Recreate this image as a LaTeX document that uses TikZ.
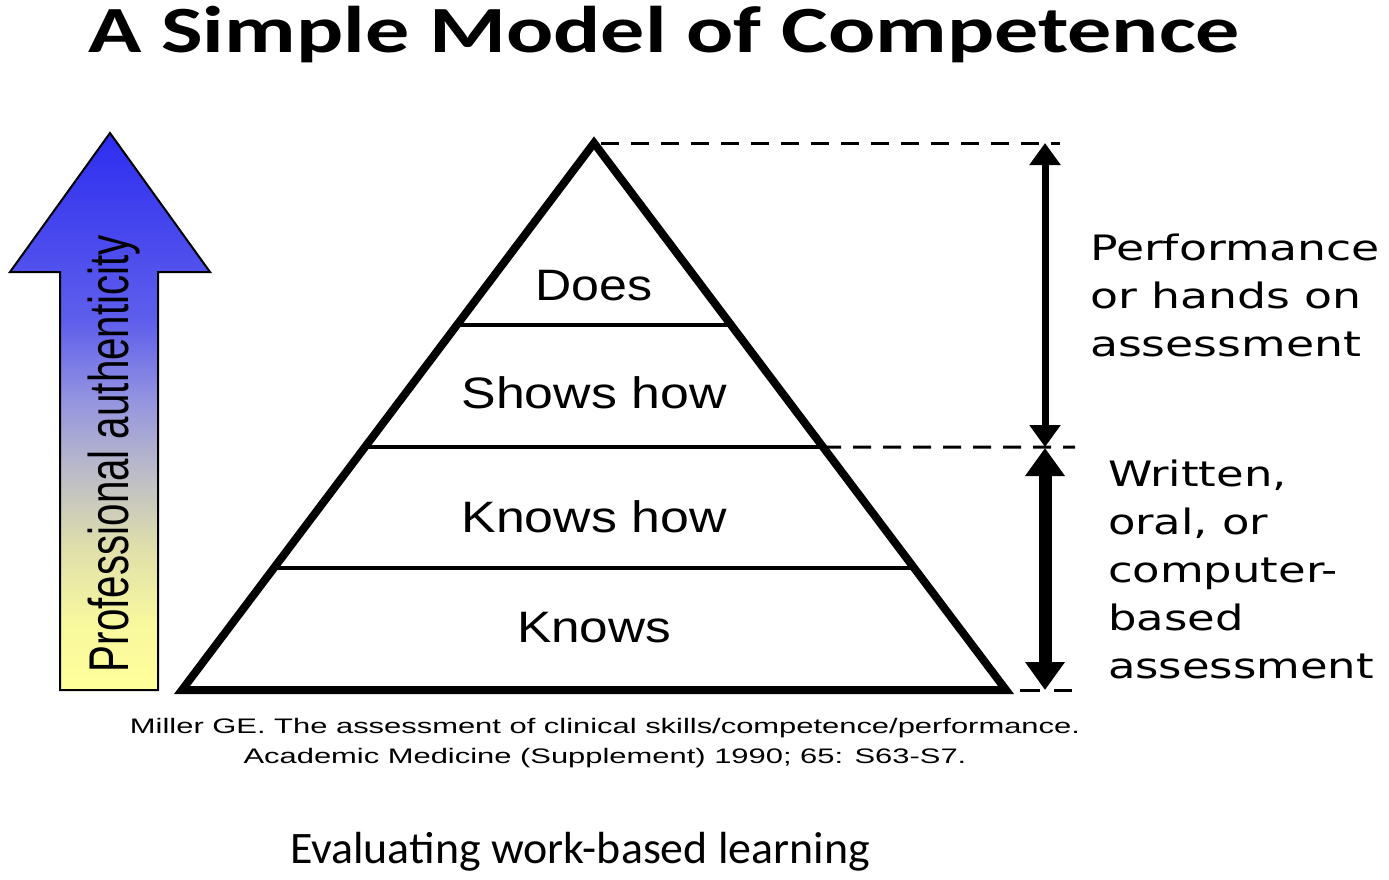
\documentclass[tikz,border=0pt]{standalone}
\usepackage{fontspec}
\usepackage{graphicx}
\usetikzlibrary{arrows.meta,calc}
\setmainfont{Liberation Sans}
\newfontfamily\titlefont{Carlito}
\newfontfamily\wfont{DejaVu Sans}
\newcommand\fitw[2]{\resizebox{#1}{\height}{#2}}
\definecolor{shY}{RGB}{255,255,155}
\definecolor{shY1}{RGB}{248,248,158}
\definecolor{shY2}{RGB}{222,222,172}
\definecolor{shG}{RGB}{188,188,200}
\definecolor{shL}{RGB}{148,148,224}
\definecolor{shB2}{RGB}{95,95,236}
\definecolor{shB}{RGB}{45,45,240}
\pgfdeclareverticalshading{profshade}{100bp}{color(0bp)=(shY); color(25bp)=(shY); color(31bp)=(shY1); color(38bp)=(shY2); color(44.5bp)=(shG); color(51bp)=(shL); color(58bp)=(shB2); color(75bp)=(shB); color(100bp)=(shB)}
\tikzset{
  txt/.style={inner sep=0pt, outer sep=0pt},
  layertxt/.style={txt, anchor=base, font=\fontsize{44}{50}\selectfont},
  sidetxt/.style={txt, anchor=base west, font=\wfont\fontsize{35}{48}\selectfont},
  dashline/.style={line width=3pt, dash pattern=on 18pt off 12pt},
  layerline/.style={line width=4pt},
  outline/.style={line width=8pt, line join=miter},
  arrowA/.style={line width=7pt, {Triangle[width=30pt,length=22pt]}-{Triangle[width=30pt,length=22pt]}},
  arrowB/.style={line width=13pt, {Triangle[width=38pt,length=28pt]}-{Triangle[width=38pt,length=28pt]}},
}
\begin{document}
\begin{tikzpicture}[x=1pt,y=-1pt]
\fill[white] (0,0) rectangle (1389,879);
\useasboundingbox (0,0) rectangle (1389,879);

% title
\node[txt, anchor=base west, font=\titlefont\bfseries\fontsize{66}{72}\selectfont] (title) at (88,52)
  {\fitw{1152pt}{A Simple Model of Competence}};

% left gradient arrow
\path[draw=black, line width=2pt, shading=profshade]
  (60,690) -- (60,272) -- (10,272) -- (110,133) -- (210,272) -- (158,272) -- (158,690) -- cycle;
\node[txt, rotate=90, anchor=base west, font=\fontsize{56}{60}\selectfont] (auth) at (128,672)
  {\fitw{437pt}{Professional authenticity}};

% pyramid
\coordinate (apex) at (594,143);
\coordinate (bl) at (182,690);
\coordinate (br) at (1006,690);
\draw[outline] (apex) -- (bl) -- (br) -- cycle;
\coordinate (l1) at ($(apex)!0.3327!(bl)$);
\coordinate (r1) at ($(apex)!0.3327!(br)$);
\coordinate (l2) at ($(apex)!0.5558!(bl)$);
\coordinate (r2) at ($(apex)!0.5558!(br)$);
\coordinate (l3) at ($(apex)!0.7770!(bl)$);
\coordinate (r3) at ($(apex)!0.7770!(br)$);
\draw[layerline] (l1) -- (r1);
\draw[layerline] (l2) -- (r2);
\draw[layerline] (l3) -- (r3);

\node[layertxt] (does) at (594,300) {\fitw{117pt}{Does}};
\node[layertxt] (shows) at (594,408) {\fitw{265pt}{Shows how}};
\node[layertxt] (knowshow) at (594,532) {\fitw{265pt}{Knows how}};
\node[layertxt] (knows) at (594,642) {\fitw{154pt}{Knows}};

% dashed guides
\coordinate (d1) at (1060,143);
\coordinate (d2) at (1075,447);
\coordinate (d3) at (1072,690);
\coordinate (d1s) at (601,143);
\coordinate (d3s) at (1020,690);
\draw[dashline] (d1s) -- (d1);
\draw[dashline] (r2) -- (d2);
\draw[dashline, dash pattern=on 20pt off 14pt] (d3s) -- (d3);

% double arrows
\coordinate (a1t) at (1045,143);
\coordinate (a1b) at (1045,447);
\coordinate (a2t) at (1045,448);
\coordinate (a2b) at (1045,690);
\draw[arrowA] (a1t) -- (a1b);
\draw[arrowB] (a2t) -- (a2b);

% side labels
\node[sidetxt] (perf) at (1090,260)
  {\fitw{290pt}{\begin{tabular}[t]{@{}l@{}}Performance\\or hands on\\assessment\end{tabular}}};
\node[sidetxt] (written) at (1108,486)
  {\fitw{266pt}{\begin{tabular}[t]{@{}l@{}}Written,\\oral, or\\computer-\\based\\assessment\end{tabular}}};

% citation
\node[txt, anchor=base, font=\fontsize{21}{30}\selectfont] (cite) at (605,733)
  {\fitw{950pt}{\begin{tabular}[t]{@{}c@{}}Miller GE. The assessment of clinical skills/competence/performance.\\Academic Medicine (Supplement) 1990; 65: S63-S7.\end{tabular}}};

% footer
\node[txt, anchor=base west, font=\titlefont\fontsize{45}{50}\selectfont] (footer) at (290,863)
  {\fitw{580pt}{Evaluating work-based learning}};
\end{tikzpicture}
\end{document}
